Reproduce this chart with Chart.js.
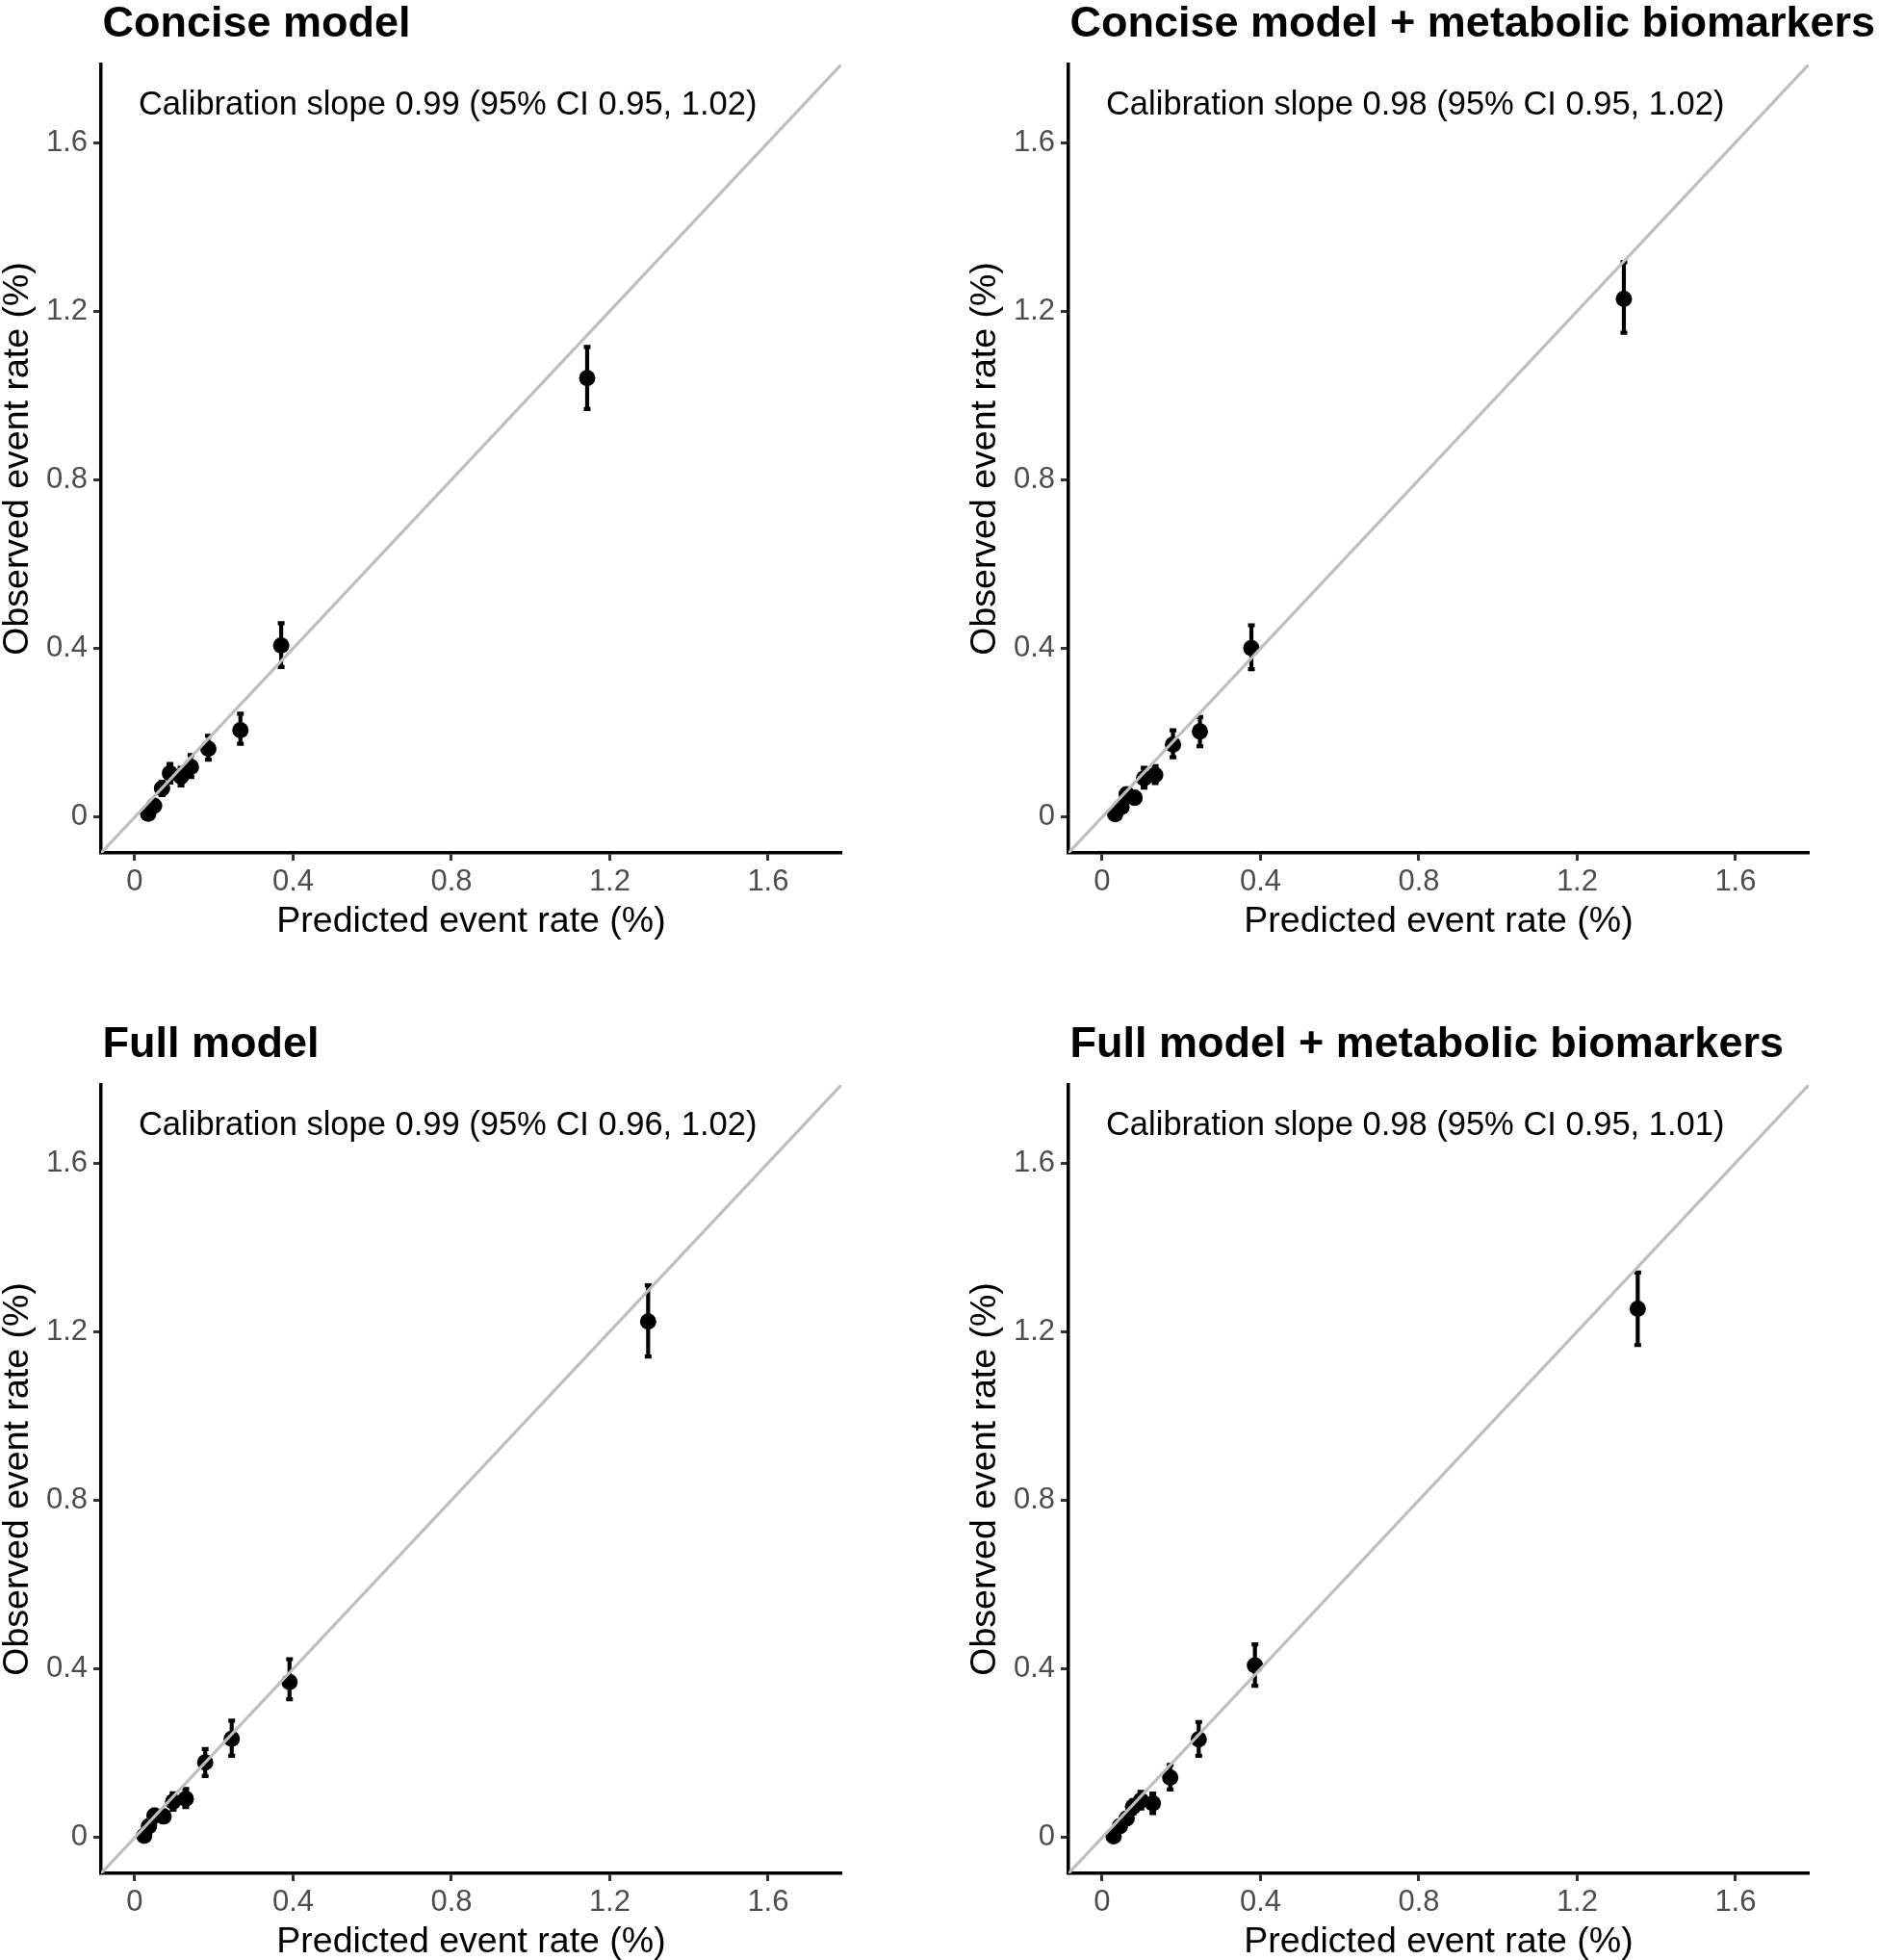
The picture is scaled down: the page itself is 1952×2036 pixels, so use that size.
<!DOCTYPE html>
<html>
<head>
<meta charset="utf-8">
<script src="https://cdn.jsdelivr.net/npm/chart.js@4.4.1/dist/chart.umd.min.js"></script>
<style>
html, body { margin: 0; padding: 0; background: #ffffff; }
body { width: 1952px; height: 2036px; position: relative; overflow: hidden; }
canvas { position: absolute; }
</style>
</head>
<body>
<canvas id="c1" width="947" height="976" style="left:0px;top:0px"></canvas>
<canvas id="c2" width="947" height="976" style="left:1005px;top:0px"></canvas>
<canvas id="c3" width="947" height="976" style="left:0px;top:1060px"></canvas>
<canvas id="c4" width="947" height="976" style="left:1005px;top:1060px"></canvas>
<script>
// ---------- data ----------
const panelTitles = [
  "Concise model",
  "Concise model + metabolic biomarkers",
  "Full model",
  "Full model + metabolic biomarkers"
];
const calibrationTexts = [
  "Calibration slope 0.99 (95% CI 0.95, 1.02)",
  "Calibration slope 0.98 (95% CI 0.95, 1.02)",
  "Calibration slope 0.99 (95% CI 0.96, 1.02)",
  "Calibration slope 0.98 (95% CI 0.95, 1.01)"
];
const xAxisTitle = "Predicted event rate (%)";
const yAxisTitle = "Observed event rate (%)";
const tickValues = [0, 0.4, 0.8, 1.2, 1.6];
const tickLabels = ["0", "0.4", "0.8", "1.2", "1.6"];
const axisLimits = [-0.085, 1.785];

// Concise model
const concisePredicted = [0.034, 0.049, 0.069, 0.089, 0.117, 0.142, 0.186, 0.267, 0.370, 1.143];
const conciseObserved  = [0.008, 0.027, 0.068, 0.104, 0.096, 0.119, 0.162, 0.206, 0.407, 1.041];
const conciseLower     = [0.001, 0.017, 0.052, 0.082, 0.075, 0.095, 0.136, 0.174, 0.356, 0.968];
const conciseUpper     = [0.016, 0.037, 0.084, 0.126, 0.117, 0.147, 0.193, 0.245, 0.460, 1.115];

// Concise model + metabolic biomarkers
const conciseBioPredicted = [0.033, 0.049, 0.062, 0.082, 0.106, 0.134, 0.179, 0.247, 0.377, 1.318];
const conciseBioObserved  = [0.007, 0.024, 0.054, 0.046, 0.092, 0.100, 0.172, 0.203, 0.401, 1.229];
const conciseBioLower     = [0.001, 0.014, 0.040, 0.033, 0.070, 0.081, 0.142, 0.168, 0.351, 1.149];
const conciseBioUpper     = [0.015, 0.034, 0.068, 0.060, 0.117, 0.121, 0.206, 0.237, 0.455, 1.316];

// Full model
const fullPredicted = [0.024, 0.036, 0.050, 0.073, 0.097, 0.129, 0.178, 0.245, 0.391, 1.297];
const fullObserved  = [0.004, 0.027, 0.052, 0.050, 0.085, 0.092, 0.178, 0.234, 0.369, 1.224];
const fullLower     = [0.000, 0.016, 0.038, 0.037, 0.066, 0.072, 0.146, 0.194, 0.328, 1.141];
const fullUpper     = [0.012, 0.038, 0.066, 0.064, 0.105, 0.115, 0.210, 0.277, 0.423, 1.310];

// Full model + metabolic biomarkers
const fullBioPredicted = [0.029, 0.045, 0.062, 0.078, 0.098, 0.128, 0.172, 0.244, 0.386, 1.353];
const fullBioObserved  = [0.003, 0.027, 0.045, 0.073, 0.088, 0.081, 0.142, 0.233, 0.408, 1.254];
const fullBioLower     = [0.000, 0.016, 0.033, 0.057, 0.069, 0.058, 0.114, 0.194, 0.360, 1.168];
const fullBioUpper     = [0.010, 0.038, 0.058, 0.089, 0.108, 0.104, 0.172, 0.274, 0.458, 1.340];

// ---------- drawing ----------
const FONT = "'Liberation Sans', Arial, Helvetica, sans-serif";
Chart.defaults.font.family = FONT;

function makePanel(canvasId, title, annotation, pred, obs, lo, hi) {
  const points = pred.map((x, i) => ({ x: x, y: obs[i] }));
  const diagonal = [
    { x: axisLimits[0], y: axisLimits[0] },
    { x: axisLimits[1], y: axisLimits[1] }
  ];

  const errorBarPlugin = {
    id: 'errorBars',
    beforeDatasetsDraw(chart) {
      const ctx = chart.ctx;
      const xs = chart.scales.x, ys = chart.scales.y;
      ctx.save();
      ctx.strokeStyle = '#000000';
      ctx.lineWidth = 4.2;
      ctx.lineCap = 'butt';
      for (let i = 0; i < pred.length; i++) {
        const px = xs.getPixelForValue(pred[i]);
        const pLo = ys.getPixelForValue(lo[i]);
        const pHi = ys.getPixelForValue(hi[i]);
        ctx.beginPath();
        ctx.moveTo(px, pLo);
        ctx.lineTo(px, pHi);
        ctx.stroke();
        ctx.beginPath();
        ctx.moveTo(px - 3.5, pLo);
        ctx.lineTo(px + 3.5, pLo);
        ctx.moveTo(px - 3.5, pHi);
        ctx.lineTo(px + 3.5, pHi);
        ctx.stroke();
      }
      ctx.restore();
    }
  };

  const textPlugin = {
    id: 'panelText',
    afterDraw(chart) {
      const ctx = chart.ctx;
      const area = chart.chartArea;
      const xs = chart.scales.x, ys = chart.scales.y;
      ctx.save();
      ctx.fillStyle = '#000000';
      ctx.textBaseline = 'middle';
      ctx.textAlign = 'left';
      ctx.font = "bold 45px " + FONT;
      ctx.fillText(title, area.left + 1.5, 26);
      ctx.font = "34.5px " + FONT;
      ctx.fillText(annotation, xs.getPixelForValue(0) + 4, ys.getPixelForValue(1.687));
      ctx.restore();
    }
  };

  const axisCommon = {
    type: 'linear',
    min: axisLimits[0],
    max: axisLimits[1],
    afterBuildTicks: s => { s.ticks = tickValues.map(v => ({ value: v })); },
    grid: {
      display: true,
      drawOnChartArea: false,
      drawTicks: true,
      tickLength: 8,
      tickColor: '#333333',
      tickWidth: 3
    },
    border: { display: true, color: '#000000', width: 3.5 }
  };

  return new Chart(document.getElementById(canvasId), {
    type: 'scatter',
    data: {
      datasets: [
        {
          label: 'diagonal',
          data: diagonal,
          showLine: true,
          borderColor: '#BEBEBE',
          borderWidth: 3.2,
          pointRadius: 0,
          fill: false,
          order: 0
        },
        {
          label: 'deciles',
          data: points,
          backgroundColor: '#000000',
          borderWidth: 0,
          pointRadius: 8.5,
          pointHoverRadius: 8.5,
          order: 1
        }
      ]
    },
    options: {
      responsive: false,
      animation: false,
      devicePixelRatio: 1,
      layout: { padding: { top: 67, right: 73, bottom: 0, left: 0 } },
      plugins: {
        legend: { display: false },
        tooltip: { enabled: false },
        title: { display: false }
      },
      scales: {
        x: Object.assign({}, axisCommon, {
          position: 'bottom',
          afterFit: s => { s.height = 90; },
          ticks: {
            callback: (v, i) => tickLabels[i],
            color: '#4D4D4D',
            font: { size: 31 },
            padding: 4,
            maxRotation: 0,
            autoSkip: false
          },
          title: {
            display: true,
            text: xAxisTitle,
            color: '#000000',
            font: { size: 37.5, lineHeight: 1.0 },
            padding: 0
          }
        }),
        y: Object.assign({}, axisCommon, {
          position: 'left',
          afterFit: s => { s.width = 105; },
          ticks: {
            callback: (v, i) => tickLabels[i],
            color: '#4D4D4D',
            font: { size: 31 },
            padding: 6,
            autoSkip: false
          },
          title: {
            display: true,
            text: yAxisTitle,
            color: '#000000',
            font: { size: 37.5, lineHeight: 1.0 },
            padding: 0
          }
        })
      }
    },
    plugins: [errorBarPlugin, textPlugin]
  });
}

makePanel('c1', panelTitles[0], calibrationTexts[0], concisePredicted, conciseObserved, conciseLower, conciseUpper);
makePanel('c2', panelTitles[1], calibrationTexts[1], conciseBioPredicted, conciseBioObserved, conciseBioLower, conciseBioUpper);
makePanel('c3', panelTitles[2], calibrationTexts[2], fullPredicted, fullObserved, fullLower, fullUpper);
makePanel('c4', panelTitles[3], calibrationTexts[3], fullBioPredicted, fullBioObserved, fullBioLower, fullBioUpper);
</script>
</body>
</html>
